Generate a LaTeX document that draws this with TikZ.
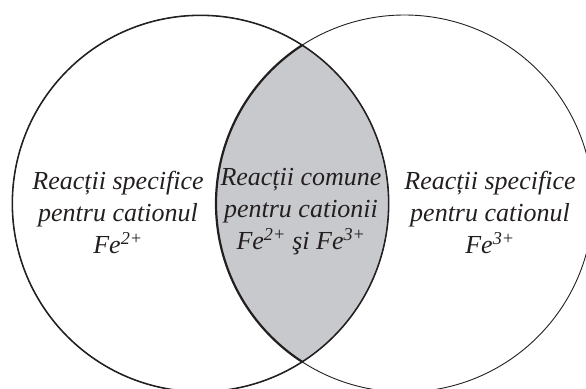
\documentclass[tikz,border=0pt]{standalone}
\usepackage{fontspec}
\setmainfont{Liberation Serif}
\usetikzlibrary{positioning}
\definecolor{lensgray}{RGB}{200,201,204}
\definecolor{inkgray}{RGB}{35,31,32}

\begin{document}
\begin{tikzpicture}[
        x=1pt, y=-1pt,
        every node/.style={inner sep=0pt, align=center, text=inkgray,
            font=\itshape\fontsize{26}{32}\selectfont},
        ring/.style={draw=inkgray, line width=0.9pt},
        rim/.style={draw=inkgray, line width=2.2pt} % Heavier edge of the overlap
    ]
        \useasboundingbox (0,0) rectangle (586,388);

        % Centres of the two sets
        \coordinate (fe2c) at (200.5,203.5);
        \coordinate (fe3c) at (404.5,203.5);

        % Shade the common part
        \begin{scope}
            \clip (fe2c) circle[radius=188.5];
            \fill[lensgray] (fe3c) circle[radius=188.5];
            \draw[rim] (fe3c) circle[radius=188.5];
            \draw[rim] (fe2c) circle[radius=188.5];
        \end{scope}

        % Draw the outlines
        \draw[ring] (fe2c) circle[radius=188.5];
        \draw[ring] (fe3c) circle[radius=188.5];

        % Labels of the three regions
        \node (fe2)    at (118,212) {Reacții specifice\\pentru cationul\\Fe\textsuperscript{2+}};
        \node (common) at (301,212) {Reacții comune\\pentru cationii\\Fe\textsuperscript{2+} şi Fe\textsuperscript{3+}};
        \node (fe3)    at (490,212) {Reacții specifice\\pentru cationul\\Fe\textsuperscript{3+}};

    \end{tikzpicture}
\end{document}
